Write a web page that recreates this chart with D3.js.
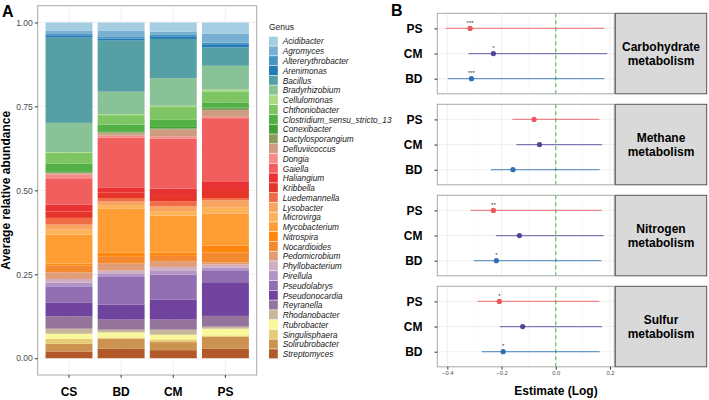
<!DOCTYPE html>
<html>
<head>
<meta charset="utf-8">
<script src="https://cdn.jsdelivr.net/npm/d3@7"></script>
<style>
  body { margin: 0; background: #fff; }
  svg { font-family: "Liberation Sans", Arial, sans-serif; display: block; }
</style>
</head>
<body>
<svg id="chart" width="709" height="400"></svg>
<script>
// panel A: genus composition per sample (top of stack = first genus)
const genera = ['Acidibacter','Agromyces','Altererythrobacter','Arenimonas','Bacillus','Bradyrhizobium',
  'Cellulomonas','Chthoniobacter','Clostridium_sensu_stricto_13','Conexibacter','Dactylosporangium',
  'Defluviicoccus','Dongia','Gaiella','Haliangium','Kribbella','Luedemannella','Lysobacter','Microvirga',
  'Mycobacterium','Nitrospira','Nocardioides','Pedomicrobium','Phyllobacterium','Pirellula','Pseudolabrys',
  'Pseudonocardia','Reyranella','Rhodanobacter','Rubrobacter','Singulisphaera','Solirubrobacter','Streptomyces'];
const samples = ['CS','BD','CM','PS'];
const abundCS = [0.025,0.009,0.006,0.005,0.254,0.087,0.002,0.033,0.022,0.003,0.003,0.004,0.011,0.079,0.020,0.019,
  0.020,0.015,0.015,0.086,0.006,0.020,0.020,0.011,0.011,0.049,0.040,0.037,0.015,0.015,0.015,0.023,0.020];
const abundBD = [0.025,0.018,0.005,0.006,0.152,0.067,0.003,0.028,0.020,0.003,0.003,0.007,0.006,0.148,0.016,0.016,
  0.010,0.011,0.011,0.131,0.012,0.020,0.021,0.010,0.009,0.082,0.045,0.030,0.008,0.015,0.004,0.029,0.029];
const abundCM = [0.027,0.010,0.006,0.006,0.117,0.082,0.004,0.038,0.021,0.004,0.004,0.020,0.007,0.149,0.019,0.019,
  0.015,0.014,0.013,0.110,0.010,0.016,0.017,0.012,0.011,0.074,0.060,0.030,0.015,0.014,0.008,0.024,0.024];
const abundPS = [0.034,0.026,0.007,0.007,0.055,0.071,0.005,0.033,0.015,0.004,0.004,0.020,0.004,0.190,0.024,0.024,
  0.007,0.020,0.019,0.096,0.020,0.030,0.006,0.009,0.008,0.038,0.098,0.032,0.006,0.020,0.004,0.036,0.028];
const yTicksA = [0, 0.25, 0.5, 0.75, 1];

// panel B: estimates with confidence intervals, rows in order PS, CM, BD
const pathways = [['Carbohydrate','metabolism'],['Methane','metabolism'],['Nitrogen','metabolism'],['Sulfur','metabolism']];
const groups = ['PS','CM','BD'];
const estimate = [[-0.316,-0.230,-0.311],[-0.080,-0.060,-0.158],[-0.230,-0.134,-0.219],[-0.208,-0.122,-0.194]];
const ciLow = [[-0.406,-0.322,-0.398],[-0.160,-0.145,-0.239],[-0.314,-0.221,-0.302],[-0.288,-0.206,-0.273]];
const ciHigh = [[0.179,0.190,0.179],[0.161,0.171,0.162],[0.170,0.177,0.168],[0.161,0.171,0.162]];
const signif = [['***','*','***'],['','',''],['**','','*'],['*','','*']];
const xTicksB = [-0.4, -0.2, 0.0, 0.2];

const paired = ['#A6CEE3','#1F78B4','#B2DF8A','#33A02C','#FB9A99','#E31A1C','#FDBF6F','#FF7F00','#CAB2D6','#6A3D9A','#FFFF99','#B15928'];
const ramp = d3.piecewise(d3.interpolateRgb, paired);
const genusColor = d3.scaleOrdinal().domain(genera).range(genera.map((g, i) => ramp(i / (genera.length - 1))));
const groupColor = d3.scaleOrdinal().domain(groups).range(['#E95A60', '#4E4597', '#2E70B6']);

const svg = d3.select('#chart');
const gridCol = '#EBEBEB', borderCol = '#A8A8A8', tickText = '#4D4D4D';

// ---------- panel A ----------
const aLeft = 37.7, aRight = 256.7, aTop = 5.7, aBottom = 375;
const xA = d3.scaleBand().domain(samples).range([aLeft, aRight]).paddingInner(0.1).paddingOuter(0.15);
const yA = d3.scaleLinear().domain([-0.05, 1.05]).range([aBottom, aTop]);

const gA = svg.append('g');
gA.selectAll('line.minor').data([0.125, 0.375, 0.625, 0.875]).join('line')
  .attr('x1', aLeft).attr('x2', aRight).attr('y1', d => yA(d)).attr('y2', d => yA(d))
  .attr('stroke', '#F4F4F4').attr('stroke-width', 0.5);
gA.selectAll('line.hmajor').data(yTicksA).join('line')
  .attr('x1', aLeft).attr('x2', aRight).attr('y1', d => yA(d)).attr('y2', d => yA(d))
  .attr('stroke', gridCol).attr('stroke-width', 0.8);
gA.selectAll('line.vmajor').data(samples).join('line')
  .attr('x1', d => xA(d) + xA.bandwidth() / 2).attr('x2', d => xA(d) + xA.bandwidth() / 2)
  .attr('y1', aTop).attr('y2', aBottom)
  .attr('stroke', gridCol).attr('stroke-width', 0.8);

const abund = [abundCS, abundBD, abundCM, abundPS];
const rows = samples.map((s, i) => {
  const row = {sample: s};
  genera.forEach((g, j) => row[g] = abund[i][j]);
  return row;
});
const stack = d3.stack().keys(genera.slice().reverse())(rows);

gA.append('g').selectAll('g').data(stack).join('g')
  .attr('fill', d => genusColor(d.key))
  .selectAll('rect').data(d => d).join('rect')
  .attr('x', d => xA(d.data.sample))
  .attr('width', xA.bandwidth())
  .attr('y', d => yA(d[1]))
  .attr('height', d => yA(d[0]) - yA(d[1]));

gA.append('rect').attr('x', aLeft).attr('y', aTop).attr('width', aRight - aLeft).attr('height', aBottom - aTop)
  .attr('fill', 'none').attr('stroke', borderCol).attr('stroke-width', 1);

const axisLeftA = gA.append('g').attr('transform', `translate(${aLeft},0)`)
  .call(d3.axisLeft(yA).tickValues(yTicksA).tickFormat(d3.format('.2f')).tickSize(2.8).tickPadding(2));
axisLeftA.select('.domain').remove();
axisLeftA.selectAll('line').attr('stroke', '#333');
axisLeftA.selectAll('text').attr('font-size', 8.6).attr('fill', tickText).attr('font-family', null);

const axisBottomA = gA.append('g').attr('transform', `translate(0,${aBottom})`)
  .call(d3.axisBottom(xA).tickSize(2.8).tickPadding(10));
axisBottomA.select('.domain').remove();
axisBottomA.selectAll('line').attr('stroke', '#333');
axisBottomA.selectAll('text').attr('font-size', 12).attr('font-weight', 'bold').attr('fill', '#000').attr('font-family', null);

gA.append('text').attr('transform', `translate(10,${yA(0.5)}) rotate(-90)`)
  .attr('text-anchor', 'middle').attr('font-size', 12).attr('font-weight', 'bold').text('Average relative abundance');
svg.append('text').attr('x', 2).attr('y', 16.7).attr('font-size', 16).attr('font-weight', 'bold').text('A');

// legend
const legend = svg.append('g').attr('transform', 'translate(269,0)');
legend.append('text').attr('x', 0).attr('y', 30).attr('font-size', 8.5).attr('fill', '#1a1a1a').text('Genus');
const legStep = 9.77, legTop = 36.6;
const item = legend.selectAll('g.item').data(genera).join('g')
  .attr('transform', (d, i) => `translate(0,${legTop + i * legStep})`);
item.append('rect').attr('width', 8.8).attr('height', legStep - 0.6).attr('fill', d => genusColor(d));
item.append('text').attr('x', 13.7).attr('y', legStep / 2 + 3)
  .attr('font-size', 8.3).attr('font-style', 'italic').attr('fill', '#1a1a1a').text(d => d);

// ---------- panel B ----------
const bLeft = 437.3, bRight = 614.3, stripRight = 706.7, facetTop = 13.3, facetStep = 91, facetH = 80.5;
const xB = d3.scaleLinear().domain([-0.437, 0.216]).range([bLeft, bRight]);
const yB = d3.scalePoint().domain(groups).range([0, facetH]).padding(0.6);

svg.append('text').attr('x', 391).attr('y', 15.7).attr('font-size', 16).attr('font-weight', 'bold').text('B');

pathways.forEach((p, k) => {
  const top = facetTop + k * facetStep;
  const g = svg.append('g').attr('transform', `translate(0,${top})`);

  g.selectAll('line.minor').data([-0.3, -0.1, 0.1]).join('line')
    .attr('x1', d => xB(d)).attr('x2', d => xB(d)).attr('y1', 0).attr('y2', facetH)
    .attr('stroke', '#F4F4F4').attr('stroke-width', 0.5);
  g.selectAll('line.vmajor').data(xTicksB).join('line')
    .attr('x1', d => xB(d)).attr('x2', d => xB(d)).attr('y1', 0).attr('y2', facetH)
    .attr('stroke', gridCol).attr('stroke-width', 0.8);
  g.selectAll('line.hmajor').data(groups).join('line')
    .attr('x1', bLeft).attr('x2', bRight).attr('y1', d => yB(d)).attr('y2', d => yB(d))
    .attr('stroke', gridCol).attr('stroke-width', 0.8);

  g.append('line').attr('x1', xB(0)).attr('x2', xB(0)).attr('y1', 0).attr('y2', facetH)
    .attr('stroke', '#5DBF5D').attr('stroke-width', 1.2).attr('stroke-dasharray', '4,3');

  const rowsB = groups.map((grp, i) => ({grp, est: estimate[k][i], lo: ciLow[k][i], hi: ciHigh[k][i], sig: signif[k][i]}));

  g.selectAll('line.ci').data(rowsB).join('line')
    .attr('x1', d => xB(d.lo)).attr('x2', d => xB(d.hi))
    .attr('y1', d => yB(d.grp)).attr('y2', d => yB(d.grp))
    .attr('stroke', d => groupColor(d.grp)).attr('stroke-opacity', 0.7).attr('stroke-width', 1.3);
  g.selectAll('circle').data(rowsB).join('circle')
    .attr('cx', d => xB(d.est)).attr('cy', d => yB(d.grp)).attr('r', 2.6)
    .attr('fill', d => groupColor(d.grp));
  g.selectAll('text.sig').data(rowsB).join('text')
    .attr('x', d => xB(d.est)).attr('y', d => yB(d.grp) - 3.5)
    .attr('text-anchor', 'middle').attr('font-size', 6).attr('fill', '#333').text(d => d.sig);

  g.append('rect').attr('x', bLeft).attr('y', 0).attr('width', bRight - bLeft).attr('height', facetH)
    .attr('fill', 'none').attr('stroke', borderCol).attr('stroke-width', 1);

  const ay = g.append('g').attr('transform', `translate(${bLeft},0)`)
    .call(d3.axisLeft(yB).tickSize(2.8).tickPadding(12));
  ay.select('.domain').remove();
  ay.selectAll('line').attr('stroke', '#333');
  ay.selectAll('text').attr('font-size', 12).attr('font-weight', 'bold').attr('fill', '#000').attr('font-family', null);

  // strip
  g.append('rect').attr('x', bRight + 1).attr('y', 0).attr('width', stripRight - bRight - 1).attr('height', facetH)
    .attr('fill', '#D9D9D9').attr('stroke', '#555').attr('stroke-width', 1);
  const cx = (bRight + 1 + stripRight) / 2;
  g.append('text').attr('x', cx).attr('text-anchor', 'middle').attr('font-size', 12).attr('font-weight', 'bold')
    .selectAll('tspan').data(p).join('tspan')
    .attr('x', cx).attr('y', (d, i) => facetH / 2 - 2.6 + i * 14.3).text(d => d);

  if (k === pathways.length - 1) {
    const ax = g.append('g').attr('transform', `translate(0,${facetH})`)
      .call(d3.axisBottom(xB).tickValues(xTicksB).tickFormat(d3.format('.1f')).tickSize(2.8).tickPadding(1.5));
    ax.select('.domain').remove();
    ax.selectAll('line').attr('stroke', '#333');
    ax.selectAll('text').attr('font-size', 5.8).attr('fill', tickText).attr('font-family', null);
  }
});

svg.append('text').attr('x', 556).attr('y', 395).attr('text-anchor', 'middle')
  .attr('font-size', 12).attr('font-weight', 'bold').text('Estimate (Log)');
</script>
</body>
</html>
